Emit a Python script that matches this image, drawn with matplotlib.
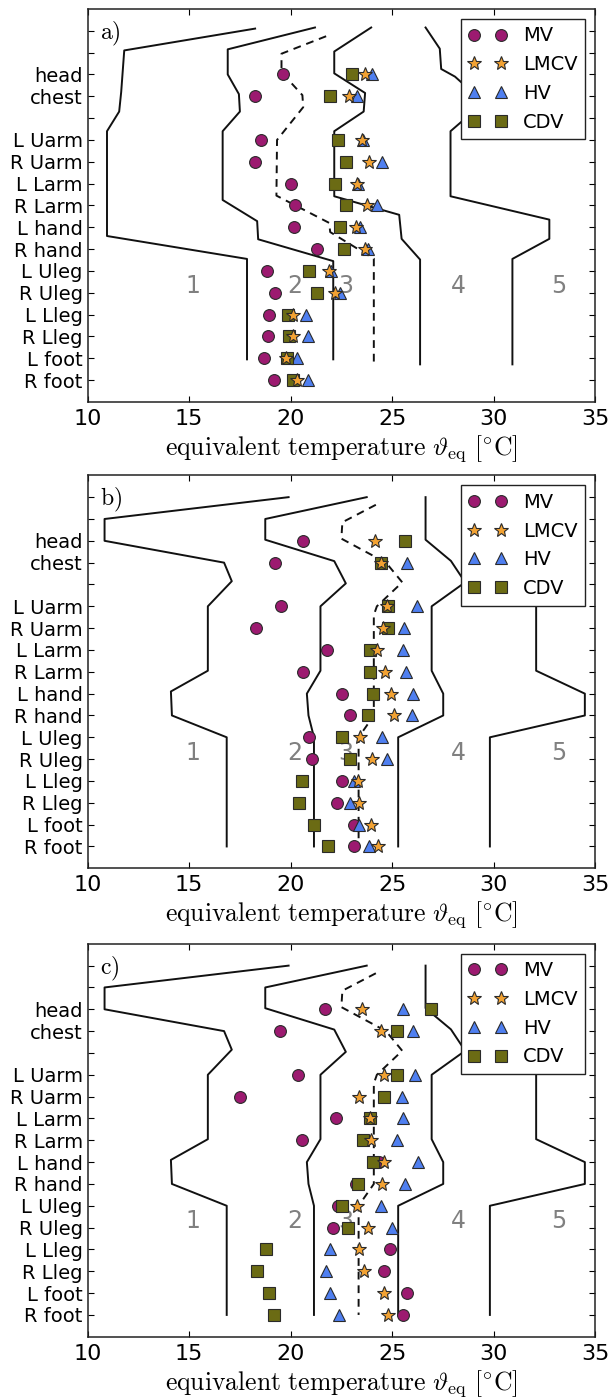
import numpy as np
import matplotlib
matplotlib.use('Agg')
import matplotlib.pyplot as plt

plt.rcParams['mathtext.fontset'] = 'cm'

# body segments and their row positions (12, 15, 16 are unlabeled rows)
parts = ['head', 'chest', 'L Uarm', 'R Uarm', 'L Larm', 'R Larm', 'L hand', 'R hand',
         'L Uleg', 'R Uleg', 'L Lleg', 'R Lleg', 'L foot', 'R foot']
ypos = [14, 13, 11, 10, 9, 8, 7, 6, 5, 4, 3, 2, 1, 0]
all_ticks = list(range(0, 17))

series_names = ['MV', 'LMCV', 'HV', 'CDV']

# a) equivalent temperatures per segment
mv_a = [19.6, 18.25, 18.55, 18.25, 20.0, 20.2, 20.15, 21.3, 18.85, 19.25, 18.95, 18.9, 18.7, 19.2]
lmcv_a = [23.65, 22.9, 23.5, 23.85, 23.25, 23.75, 23.2, 23.65, 21.9, 22.2, 20.1, 20.1, 19.75, 20.3]
hv_a = [24.0, 23.25, 23.55, 24.5, 23.3, 24.25, 23.4, 23.8, 22.0, 22.45, 20.75, 20.85, 20.3, 20.85]
cdv_a = [23.0, 21.95, 22.35, 22.75, 22.2, 22.75, 22.45, 22.65, 20.9, 21.3, 19.85, 19.9, 19.8, 20.1]

# b)
mv_b = [20.6, 19.25, 19.55, 18.3, 21.8, 20.6, 22.55, 22.95, 20.9, 21.05, 22.55, 22.3, 23.1, 23.1]
lmcv_b = [24.15, 24.45, 24.75, 24.55, 24.25, 24.65, 24.95, 25.1, 23.4, 24.0, 23.3, 23.35, 23.95, 24.3]
hv_b = [np.nan, 25.75, 26.25, 25.6, 25.55, 25.7, 26.05, 26.0, 24.5, 24.75, 23.1, 22.95, 23.35, 23.85]
cdv_b = [25.65, 24.45, 24.8, 24.8, 23.9, 23.9, 24.05, 23.8, 22.55, 22.95, 20.55, 20.4, 21.15, 21.85]

# c)
mv_c = [21.7, 19.5, 20.35, 17.5, 22.25, 20.55, 24.35, 23.2, 22.35, 22.1, 24.9, 24.6, 25.75, 25.55]
lmcv_c = [23.5, 24.45, 24.6, 23.35, 23.9, 23.95, 24.6, 24.5, 23.25, 23.8, 23.35, 23.6, 24.6, 24.8]
hv_c = [25.55, 26.05, 26.15, 25.5, 25.55, 25.25, 26.3, 25.65, 24.45, 25.0, 21.95, 21.75, 21.95, 22.4]
cdv_c = [26.9, 25.25, 25.25, 24.6, 23.9, 23.55, 24.05, 23.3, 22.55, 22.85, 18.8, 18.35, 18.95, 19.2]

# comfort zone boundaries, a)
za1_x = [18.25, 11.8, 11.65, 11.55, 10.95, 10.95, 17.85, 17.85]
za1_y = [16.1, 15.1, 13.2, 12.3, 11.4, 6.6, 5.55, 0.95]
za2_x = [21.2, 16.9, 16.9, 17.45, 17.5, 16.65, 16.65, 18.35, 18.4, 22.1, 22.1]
za2_y = [16.15, 15.15, 14.0, 13.1, 12.3, 11.4, 8.25, 7.28, 6.45, 5.45, 0.95]
za_dash_x = [21.75, 19.55, 19.55, 20.58, 20.62, 19.33, 19.3, 21.9, 21.95, 24.1, 24.1]
za_dash_y = [15.75, 14.95, 14.1, 13.05, 12.5, 11.0, 8.45, 7.2, 6.78, 5.56, 0.65]
za3_x = [23.97, 22.15, 22.15, 23.67, 23.6, 22.15, 22.15, 25.35, 25.47, 26.38, 26.38]
za3_y = [16.15, 15.05, 14.05, 13.15, 12.3, 11.4, 8.42, 7.57, 6.47, 5.52, 0.72]
za4_x = [26.65, 27.35, 27.42, 28.1, 29.0, 29.0, 27.88, 27.88, 32.75, 32.75, 30.93, 30.93]
za4_y = [16.15, 15.18, 14.25, 13.9, 13.15, 12.3, 11.4, 8.42, 7.35, 6.47, 5.55, 0.72]

# comfort zone boundaries, b) and c)
zb1_x = [19.9, 10.83, 10.83, 16.72, 17.1, 15.92, 15.92, 14.1, 14.15, 16.85, 16.85]
zb1_y = [16, 15, 14, 13, 12.15, 11, 8.05, 7.1, 6, 5, 0]
zb2_x = [23.75, 18.75, 18.75, 22.15, 22.72, 21.47, 21.47, 20.8, 20.88, 21.15, 21.15]
zb2_y = [16, 15, 14.05, 13.07, 12.05, 11, 8.05, 7.0, 6, 5, 0]
zb_dash_x = [24.2, 22.55, 22.5, 24.7, 25.5, 24.25, 24.1, 24.1, 23.35, 23.35]
zb_dash_y = [15.65, 14.85, 14.1, 13.0, 12.1, 11.0, 10.6, 6.0, 5.0, 0.0]
zb3_x = [26.65, 26.65, 27.9, 28.6, 26.95, 26.95, 27.52, 27.52, 25.3, 25.3]
zb3_y = [16, 14.05, 13.08, 12.1, 11.0, 8.05, 7.0, 6.0, 5.0, 0.0]
zb4_x = [32.1, 32.1, 32.1, 34.5, 34.5, 29.82, 29.82]
zb4_y = [12.1, 11.0, 8.05, 7.0, 6.0, 5.0, 0.0]

zone_names = ['1', '2', '3', '4', '5']
zone_label_x = [15.2, 20.2, 22.7, 28.25, 33.2]
zone_label_y = 4.3

marker_style = {
    'MV': dict(marker='o', color='#9c1a70', zorder=3),
    'LMCV': dict(marker='*', color='#f2a233', zorder=6, ms=10),
    'HV': dict(marker='^', color='#4f7ff0', zorder=4),
    'CDV': dict(marker='s', color='#6b6b14', zorder=5),
}

panels = [
    ('a)', [mv_a, lmcv_a, hv_a, cdv_a],
     [(za1_x, za1_y, '-'), (za2_x, za2_y, '-'), (za_dash_x, za_dash_y, '--'),
      (za3_x, za3_y, '-'), (za4_x, za4_y, '-')]),
    ('b)', [mv_b, lmcv_b, hv_b, cdv_b],
     [(zb1_x, zb1_y, '-'), (zb2_x, zb2_y, '-'), (zb_dash_x, zb_dash_y, '--'),
      (zb3_x, zb3_y, '-'), (zb4_x, zb4_y, '-')]),
    ('c)', [mv_c, lmcv_c, hv_c, cdv_c],
     [(zb1_x, zb1_y, '-'), (zb2_x, zb2_y, '-'), (zb_dash_x, zb_dash_y, '--'),
      (zb3_x, zb3_y, '-'), (zb4_x, zb4_y, '-')]),
]

fig = plt.figure(figsize=(6.10, 13.98), dpi=100)
bottoms = [0.7125, 0.3789, 0.0438]

for (tag, values, zones), bottom in zip(panels, bottoms):
    ax = fig.add_axes([0.1438, bottom, 0.8316, 0.2811])

    for zx, zy, ls in zones:
        if ls == '--':
            ax.plot(zx, zy, color='#111111', lw=1.4, linestyle=(0, (4, 3)), zorder=2)
        else:
            ax.plot(zx, zy, color='#111111', lw=1.4, zorder=2)

    handles = []
    for name, vals in zip(series_names, values):
        st = dict(marker_style[name])
        ms = st.pop('ms', 8.5)
        h, = ax.plot(vals, ypos, linestyle='none', ms=ms, mec='#2a2a2a', mew=0.8,
                     label=name, **st)
        handles.append(h)

    for name, zx in zip(zone_names, zone_label_x):
        ax.text(zx, zone_label_y, name, color='#808080', fontsize=17,
                ha='center', va='center', zorder=1)

    ax.text(10.6, 15.85, r'$\mathrm{' + tag + '}$', fontsize=17, ha='left', va='center')

    ax.set_xlim(10, 35)
    ax.set_ylim(-1, 17)
    ax.set_xticks([10, 15, 20, 25, 30, 35])
    ax.set_yticks(all_ticks)
    labels = [''] * len(all_ticks)
    for p, y in zip(parts, ypos):
        labels[y] = p
    ax.set_yticklabels(labels, fontsize=14)
    ax.tick_params(axis='x', labelsize=16, pad=5)
    ax.tick_params(direction='in', top=True, right=True, length=4, width=0.8)
    for sp in ax.spines.values():
        sp.set_linewidth(1.1)
        sp.set_color('#222222')

    ax.set_xlabel(r'$\mathrm{equivalent\ temperature}\ \vartheta_{\mathrm{eq}}\ [{}^{\circ}\mathrm{C}]$',
                  fontsize=18.5, labelpad=3)

    leg = ax.legend(handles=handles, loc='upper right', numpoints=2, fontsize=14,
                    fancybox=False, framealpha=1, edgecolor='#222222',
                    borderaxespad=0.5, labelspacing=0.5)
    leg.get_frame().set_linewidth(1.0)
    leg.set_zorder(10)

fig.savefig('out.png', dpi=100)
